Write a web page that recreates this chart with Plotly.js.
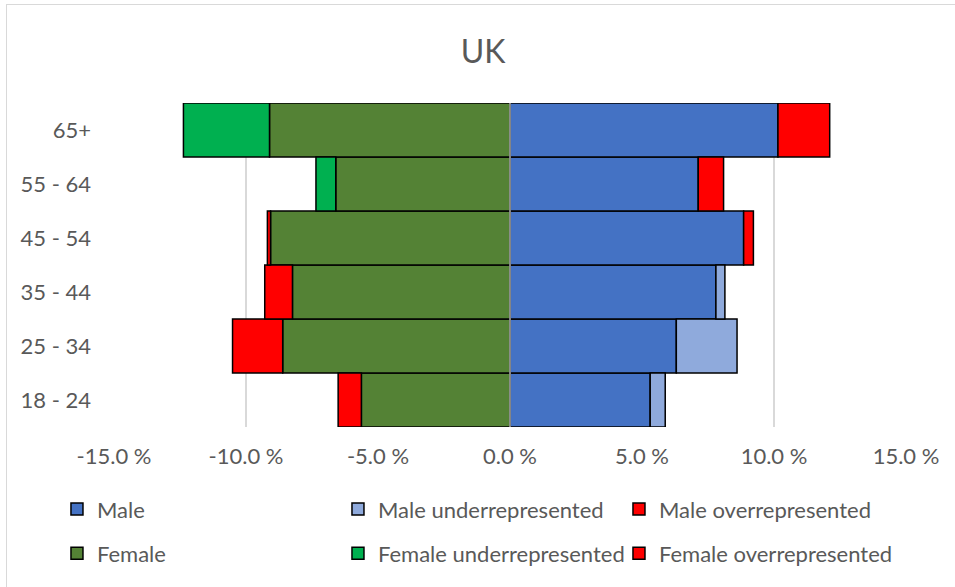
<!DOCTYPE html>
<html>
<head>
<meta charset="utf-8">
<script src="https://cdn.plot.ly/plotly-3.0.1.min.js"></script>
<style>
  html, body { margin: 0; padding: 0; background: #ffffff; }
  #frame { position: absolute; left: 6px; top: 4px; width: 1000px; height: 620px; border: 1px solid #d9d9d9; }
  #chart { position: absolute; left: 0; top: 0; width: 955px; height: 587px; }
</style>
</head>
<body>
<div id="frame"></div>
<div id="chart"></div>
<script>
// Age bands, bottom to top
const categories = ["18 - 24", "25 - 34", "35 - 44", "45 - 54", "55 - 64", "65+"];
// Percent of population (positive values; female side is mirrored to the left)
const male            = [5.31, 6.30, 7.80, 8.85, 7.13, 10.15];
const maleUnder       = [0.57, 2.30, 0.34, null, null, null];
const maleOver        = [null, null, null, 0.37, 0.96, 1.96];
const female          = [5.63, 8.61, 8.24, 9.07, 6.60, 9.11];
const femaleUnder     = [null, null, null, null, 0.75, 3.26];
const femaleOver      = [0.88, 1.90, 1.05, 0.12, null, null];
// Axis ticks
const tickValues = [-15, -10, -5, 0, 5, 10, 15];
const tickLabels = ["-15.0 %", "-10.0 %", "-5.0 %", "0.0 %", "5.0 %", "10.0 %", "15.0 %"];

const FONT = "Lato, 'Open Sans', sans-serif";
const TXT = "#595959";
const neg = arr => arr.map(v => (v === null ? null : -v));

function bar(name, values, color, legend) {
  return {
    type: "bar", orientation: "h", name: name,
    y: categories, x: values,
    marker: { color: color, line: { color: "#000000", width: 1.5 } },
    legend: legend, hoverinfo: "skip"
  };
}

const data = [
  bar("Male", male, "#4472C4", "legend"),
  bar("Male underrepresented", maleUnder, "#8FAADC", "legend"),
  bar("Male overrepresented", maleOver, "#FF0000", "legend"),
  bar("Female", neg(female), "#548235", "legend2"),
  bar("Female underrepresented", neg(femaleUnder), "#00B050", "legend2"),
  bar("Female overrepresented", neg(femaleOver), "#FF0000", "legend2")
];

const legendBase = {
  orientation: "h", xref: "paper", yref: "paper",
  x: -0.072, xanchor: "left", yanchor: "middle",
  entrywidth: 236, entrywidthmode: "pixels",
  font: { family: FONT, size: 22, color: TXT },
  bgcolor: "rgba(0,0,0,0)", traceorder: "normal", itemclick: false
};

const layout = {
  width: 955, height: 587,
  margin: { l: 114, r: 49, t: 103, b: 160, pad: 0 },
  paper_bgcolor: "rgba(0,0,0,0)", plot_bgcolor: "rgba(0,0,0,0)",
  barmode: "relative", bargap: 0,
  title: {
    text: "UK", font: { family: FONT, size: 32, color: TXT },
    x: 0.466, xref: "paper", xanchor: "center", y: 50, yref: "container", yanchor: "middle"
  },
  xaxis: {
    range: [-15, 15], tickvals: tickValues, ticktext: tickLabels,
    showgrid: true, gridcolor: "#d9d9d9", gridwidth: 1.3,
    zeroline: false, showline: false, ticks: "",
    tickfont: { family: FONT, size: 22, color: TXT }, ticklabelstandoff: 14,
    fixedrange: true
  },
  yaxis: {
    type: "category", showgrid: false, zeroline: false, showline: false, ticks: "",
    tickfont: { family: FONT, size: 22, color: TXT }, ticklabelstandoff: 22,
    fixedrange: true
  },
  shapes: [{
    type: "line", layer: "above", xref: "x", yref: "paper",
    x0: 0, x1: 0, y0: 0, y1: 1, line: { color: "#c9c9c9", width: 1.3 }
  }],
  legend: Object.assign({}, legendBase, { y: -0.254 }),
  legend2: Object.assign({}, legendBase, { y: -0.39 }),
  showlegend: true
};

Plotly.newPlot("chart", data, layout, { displayModeBar: false, staticPlot: true });
</script>
</body>
</html>
